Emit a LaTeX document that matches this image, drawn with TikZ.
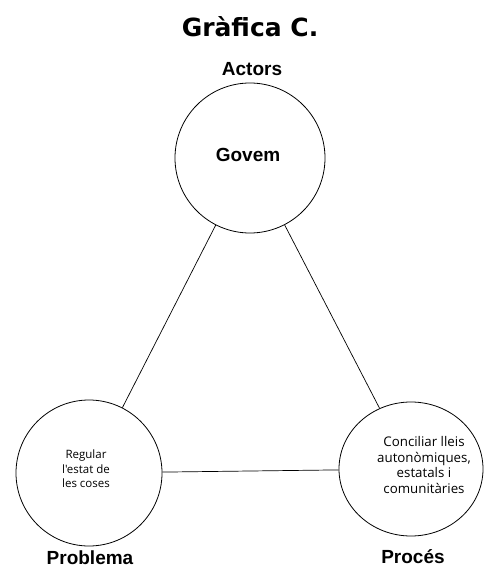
\documentclass[tikz,border=0pt]{standalone}
\usepackage{fontspec}
\setmainfont{Open Sans}
\newfontfamily\titlefont{DejaVu Sans}
\newfontfamily\labelfont{Liberation Sans}
\newfontfamily\innerfont{Open Sans}
\usetikzlibrary{shapes.geometric}
\begin{document}
\begin{tikzpicture}[x=1pt,y=-1pt,
  ring/.style={draw=black,line width=0.8pt,circle,inner sep=0pt},
  corner/.style={font=\labelfont\bfseries\fontsize{19}{22}\selectfont,anchor=base,inner sep=0pt},
  inner/.style={font=\innerfont\fontsize{13.3}{15.5}\selectfont,align=center,anchor=center,inner sep=0pt},
  link/.style={draw=black,line width=0.7pt}]
\useasboundingbox (0,0) rectangle (483,567);

% title
\node[font=\titlefont\bfseries\fontsize{25}{30}\selectfont,anchor=base,inner sep=0pt] (title) at (250,37) {Gràfica C.};

% the three circles
\node[ring,minimum size=150pt] (govern) at (250,158) {};
\node[ring,minimum size=146pt] (problema) at (89,473) {};
\node[ring,ellipse,minimum width=144pt,minimum height=134pt] (proces) at (411,469) {};

% connectors between circles
\draw[link] (govern) -- (problema);
\draw[link] (govern) -- (proces);
\draw[link] (problema) -- (proces);

% corner labels
\node[corner] (actors) at (252,76) {Actors};
\node[corner] (lblproblema) at (90,564) {Problema};
\node[corner] (lblproces) at (413,563) {Procés};

% circle contents
\node[font=\labelfont\bfseries\fontsize{19}{22}\selectfont,anchor=base,inner sep=0pt] (txtgovern) at (248,161) {Govem};
\node[inner,font=\innerfont\fontsize{11.5}{14.5}\selectfont] (txtproblema) at (86,469) {Regular\\l'estat de\\les coses};
\node[inner] (txtproces) at (424,465) {Conciliar lleis\\autonòmiques,\\estatals i\\comunitàries};
\end{tikzpicture}
\end{document}
